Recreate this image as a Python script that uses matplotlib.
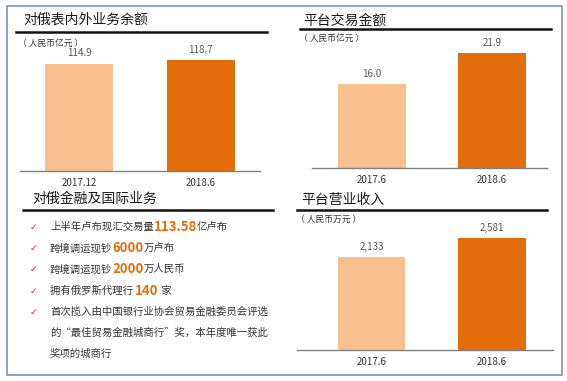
import matplotlib
matplotlib.use("Agg")
import matplotlib.pyplot as plt
from matplotlib.patches import Rectangle
from matplotlib.lines import Line2D

plt.rcParams['font.family'] = ['Noto Sans CJK SC', 'DejaVu Sans']

W, H = 567, 381

# data
titles = ['对俄表内外业务余额', '平台交易金额', '对俄金融及国际业务', '平台营业收入']
units = ['（ 人民币亿元 ）', '（ 人民币亿元 ）', '（ 人民币万元 ）']

cats_balance = ['2017.12', '2018.6']
vals_balance = [114.9, 118.7]

cats_trade = ['2017.6', '2018.6']
vals_trade = [16.0, 21.9]

cats_income = ['2017.6', '2018.6']
vals_income = [2133, 2581]

# bullet lines: list of (text, highlighted?)
bullets = [
    [('上半年卢布现汇交易量', False), ('113.58', True), ('亿卢布', False)],
    [('跨境调运现钞', False), ('6000', True), ('万卢布', False)],
    [('跨境调运现钞', False), ('2000', True), ('万人民币', False)],
    [('拥有俄罗斯代理行 ', False), ('140', True), (' 家', False)],
    [('首次揽入由中国银行业协会贸易金融委员会评选', False)],
]
bullet_extra = ['的“最佳贸易金融城商行”奖，本年度唯一获此', '奖项的城商行']

light = '#F8C08F'
dark = '#E36C0B'
txt_gray = '#333333'

fig = plt.figure(figsize=(W / 100, H / 100), dpi=100)


def fx(x):
    return x / W


def fy(y):
    return 1 - y / H


def add_ax(x0, y0, x1, y1):
    return fig.add_axes([fx(x0), fy(y1), (x1 - x0) / W, (y1 - y0) / H])


# outer frame
fig.patches.append(Rectangle((fx(7), fy(375)), (562 - 7) / W, (375 - 6) / H,
                             transform=fig.transFigure, fill=False,
                             edgecolor='#6F8CB2', linewidth=1.1))


def header(title, tx, ty, lx0, lx1, ly):
    fig.text(fx(tx), fy(ty), title, fontsize=10, color='#1a1a1a',
             ha='left', va='center')
    fig.lines.append(Line2D([fx(lx0), fx(lx1)], [fy(ly), fy(ly)],
                            transform=fig.transFigure, color='#111111', lw=1.8))


def bar_panel(box, xlim, ymax, cats, vals, labels):
    ax = add_ax(*box)
    ax.bar(range(len(vals)), vals, width=0.56, color=[light, dark])
    ax.set_xlim(*xlim)
    ax.set_ylim(0, ymax)
    for s in ['top', 'right', 'left']:
        ax.spines[s].set_visible(False)
    ax.spines['bottom'].set_color('#808080')
    ax.spines['bottom'].set_linewidth(1.0)
    ax.set_yticks([])
    ax.set_xticks(range(len(cats)))
    ax.set_xticklabels(cats, fontsize=7, color='#333333')
    ax.tick_params(axis='x', length=0, pad=5)
    ax.patch.set_alpha(0)
    for i, (v, lab) in enumerate(zip(vals, labels)):
        ax.annotate(lab, (i, v), xytext=(0, 7.5), textcoords='offset points',
                    ha='center', va='center', fontsize=7, color='#555555')
    return ax


# panel 1
header(titles[0], 23, 20, 16, 267, 32)
fig.text(fx(18), fy(43), units[0], fontsize=6.3, color='#333333', va='center')
bar_panel((20, 40, 260, 171), (-0.49, 1.49), 118.7 * 131 / 111,
          cats_balance, vals_balance, [f'{v:.1f}' for v in vals_balance])

# panel 2
header(titles[1], 303, 21, 300, 551, 29)
fig.text(fx(299), fy(38), units[1], fontsize=6.3, color='#333333', va='center')
bar_panel((312, 40, 547, 168), (-0.5, 1.458), 21.9 * 128 / 115,
          cats_trade, vals_trade, [f'{v:.1f}' for v in vals_trade])

# panel 4
header(titles[3], 301, 200, 297, 547, 210)
fig.text(fx(296), fy(219), units[2], fontsize=6.3, color='#333333', va='center')
bar_panel((297, 225, 553, 350), (-0.618, 1.506), 2581 * 125 / 112,
          cats_income, vals_income, [f'{v:,}' for v in vals_income])

# panel 3: text list
header(titles[2], 32, 199, 23, 273, 210)
renderer = fig.canvas.get_renderer()
line_y = [227, 248, 269, 291, 312]
for y, parts in zip(line_y, bullets):
    fig.text(fx(33), fy(y), '✓', fontsize=6.5, color='#C0262D',
             family=['DejaVu Sans'], ha='center', va='center')
    x = 50
    for s, hi in parts:
        if hi:
            t = fig.text(fx(x), fy(y), s, fontsize=9.5, fontweight='bold',
                         color=dark, va='center', ha='left')
        else:
            t = fig.text(fx(x), fy(y), s, fontsize=7.5, color=txt_gray,
                         va='center', ha='left')
        x = t.get_window_extent(renderer).x1
for y, s in zip([333, 354], bullet_extra):
    fig.text(fx(50), fy(y), s, fontsize=7.5, color=txt_gray,
             va='center', ha='left')

fig.savefig('out.png', dpi=100)
